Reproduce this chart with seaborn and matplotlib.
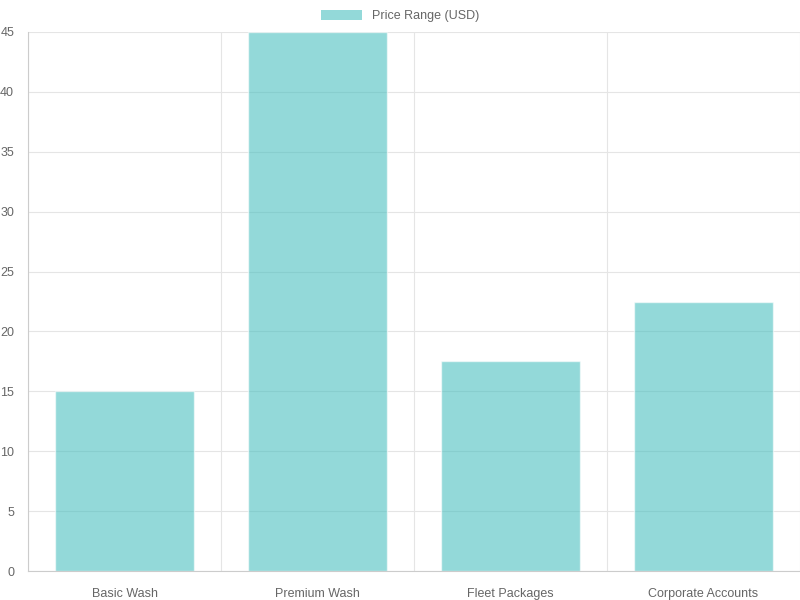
import matplotlib
matplotlib.use("Agg")
import matplotlib.pyplot as plt
import seaborn as sns
import pandas as pd
from matplotlib.patches import Patch

categories = ["Basic Wash", "Premium Wash", "Fleet Packages", "Corporate Accounts"]
values = [15, 45, 17.5, 22.5]
series_name = "Price Range (USD)"

sns.set_style("white")
plt.rcParams['font.family'] = ['Liberation Sans', 'DejaVu Sans']

df = pd.DataFrame({"cat": categories, "val": values})
fig = plt.figure(figsize=(8, 6), dpi=100)
ax = fig.add_axes([28/800, 1-571/600, 772/800, 539/600])
sns.barplot(data=df, x="cat", y="val", color=(75/255, 192/255, 192/255), alpha=0.6,
            width=0.72, ax=ax, saturation=1)
ax.set_xlim(-0.5, 3.5)
ax.set_ylim(0, 45)
ax.set_yticks(range(0, 46, 5))
ax.set_xlabel(""); ax.set_ylabel("")
ax.set_xticks([-0.5, 0.5, 1.5, 2.5, 3.5], minor=True)
ax.tick_params(axis='x', which='major', length=0, pad=12, labelsize=9, labelcolor='#666666')
ax.tick_params(axis='x', which='minor', length=8, color='#dddddd', width=0.8)
ax.tick_params(axis='y', length=0, pad=10, labelsize=9, labelcolor='#666666')
ax.grid(True, axis='y', color='#e5e5e5', linewidth=0.8)
ax.grid(True, axis='x', which='minor', color='#e5e5e5', linewidth=0.8)
ax.set_axisbelow(True)
for s in ['top', 'right']:
    ax.spines[s].set_visible(False)
for s in ['left', 'bottom']:
    ax.spines[s].set_color('#cccccc'); ax.spines[s].set_linewidth(0.8)
fig.legend(handles=[Patch(facecolor=(75/255, 192/255, 192/255, 0.6), edgecolor='none', label=series_name)],
           loc='center', bbox_to_anchor=(0.5, 1-16/600), frameon=False, fontsize=9,
           labelcolor='#666666', handlelength=3.3, handleheight=0.9)
fig.savefig("out.png", dpi=100)
